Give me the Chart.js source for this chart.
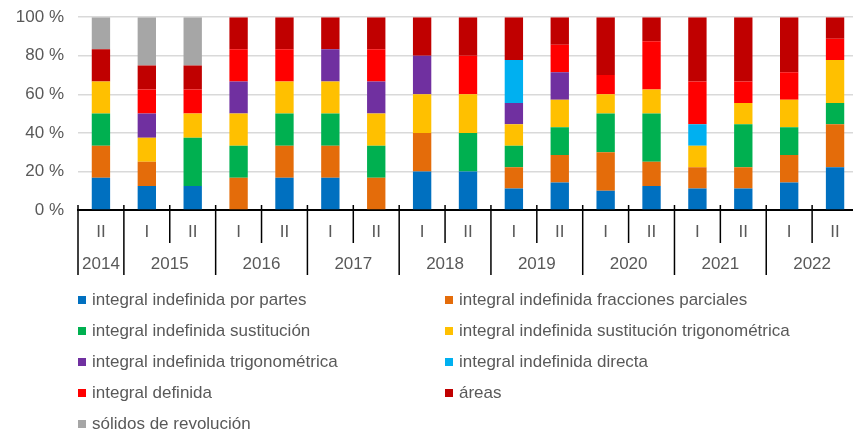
<!DOCTYPE html>
<html>
<head>
<meta charset="utf-8">
<script src="https://cdn.jsdelivr.net/npm/chart.js@4"></script>
<style>
  body { margin: 0; width: 853px; height: 438px; overflow: hidden; background: #fff; }
  #wrap { position: relative; width: 860px; height: 438px; }
  #chartBox { position: absolute; left: 0; top: -7px; width: 860px; height: 297px; }
  #legend { position: absolute; left: 0; top: 0; width: 853px; height: 438px;
            font-family: "Liberation Sans", Arial, sans-serif; font-size: 17px; color: #595959; }
  .item { position: absolute; white-space: nowrap; line-height: 20px; }
  .item span.box { display: inline-block; width: 8px; height: 8px; margin-right: 6px; vertical-align: 1px; }
</style>
</head>
<body>
<div id="wrap">
  <div id="chartBox"><canvas id="chart" width="860" height="297"></canvas></div>
  <div id="legend"></div>
</div>
<script>
// categories: semester + year for each bar
const semesterLabels = ['II', 'I', 'II', 'I', 'II', 'I', 'II', 'I', 'II', 'I', 'II', 'I', 'II', 'I', 'II', 'I', 'II'];
const yearLabels = ['2014', '2015', '2015', '2016', '2016', '2017', '2017', '2018', '2018',
                    '2019', '2019', '2020', '2020', '2021', '2021', '2022', '2022'];
const yTickLabels = ['0 %', '20 %', '40 %', '60 %', '80 %', '100 %'];

// share of each topic per semester (%), bottom to top of the stack
const porPartes   = [16.67, 12.5, 12.5, 0, 16.67, 16.67, 0, 20, 20, 11.11, 14.29, 10, 12.5, 11.11, 11.11, 14.29, 22.22];
const fracciones  = [16.67, 12.5, 0, 16.67, 16.67, 16.67, 16.67, 20, 0, 11.11, 14.29, 20, 12.5, 11.11, 11.11, 14.29, 22.22];
const sustitucion = [16.67, 0, 25, 16.67, 16.67, 16.67, 16.67, 0, 20, 11.11, 14.29, 20, 25, 0, 22.22, 14.29, 11.11];
const sustTrig    = [16.67, 12.5, 12.5, 16.67, 16.67, 16.67, 16.67, 20, 20, 11.11, 14.29, 10, 12.5, 11.11, 11.11, 14.29, 22.22];
const trigonom    = [0, 12.5, 0, 16.67, 0, 16.67, 16.67, 20, 0, 11.11, 14.29, 0, 0, 0, 0, 0, 0];
const directa     = [0, 0, 0, 0, 0, 0, 0, 0, 0, 22.22, 0, 0, 0, 11.11, 0, 0, 0];
const definida    = [0, 12.5, 12.5, 16.67, 16.67, 0, 16.67, 0, 20, 0, 14.29, 10, 25, 22.22, 11.11, 14.29, 11.11];
const areas       = [16.67, 12.5, 12.5, 16.67, 16.67, 16.67, 16.67, 20, 20, 22.22, 14.29, 30, 12.5, 33.33, 33.33, 28.57, 11.11];
const solidos     = [16.67, 25, 25, 0, 0, 0, 0, 0, 0, 0, 0, 0, 0, 0, 0, 0, 0];

const seriesNames = [
  'integral indefinida por partes', 'integral indefinida fracciones parciales',
  'integral indefinida sustitución', 'integral indefinida sustitución trigonométrica',
  'integral indefinida trigonométrica', 'integral indefinida directa',
  'integral definida', 'áreas', 'sólidos de revolución'
];
const seriesData = [porPartes, fracciones, sustitucion, sustTrig, trigonom, directa, definida, areas, solidos];
const seriesColors = ['#0070C0', '#E46C0A', '#00B050', '#FFC000', '#7030A0', '#00B0F0', '#FF0000', '#C00000', '#A6A6A6'];

const FONT = '"Liberation Sans", Arial, sans-serif';
const GREY = '#595959';

// draws the two level category axis: I / II, years and the separators
const groupedAxis = {
  id: 'groupedAxis',
  afterDraw(chart) {
    const ctx = chart.ctx;
    const x = chart.scales.x;
    const base = chart.chartArea.bottom;
    const half = (x.getPixelForValue(1) - x.getPixelForValue(0)) / 2;
    ctx.save();
    ctx.fillStyle = GREY;
    ctx.font = '17px ' + FONT;
    ctx.textAlign = 'center';
    ctx.textBaseline = 'middle';
    ctx.strokeStyle = '#000';
    ctx.lineWidth = 1.5;

    // semester labels and short separators
    semesterLabels.forEach((s, i) => {
      const c = x.getPixelForValue(i);
      ctx.fillText(s, c, base + 22);
      const left = c - half;
      const newYear = i === 0 || yearLabels[i] !== yearLabels[i - 1];
      ctx.beginPath();
      ctx.moveTo(left, base - 5);
      ctx.lineTo(left, newYear ? base + 65 : base + 33);
      ctx.stroke();
    });

    // year labels centred on their group
    let start = 0;
    for (let i = 1; i <= yearLabels.length; i++) {
      if (i === yearLabels.length || yearLabels[i] !== yearLabels[start]) {
        const c = (x.getPixelForValue(start) + x.getPixelForValue(i - 1)) / 2;
        ctx.fillText(yearLabels[start], c, base + 54);
        start = i;
      }
    }
    ctx.restore();
  }
};

new Chart(document.getElementById('chart'), {
  type: 'bar',
  data: {
    labels: semesterLabels,
    datasets: seriesNames.map((name, k) => ({
      label: name,
      data: seriesData[k],
      backgroundColor: seriesColors[k],
      borderWidth: 0,
      barPercentage: 0.4,
      categoryPercentage: 1
    }))
  },
  options: {
    responsive: false,
    animation: false,
    layout: { padding: { top: 9, right: 2, left: 0, bottom: 0 } },
    plugins: { legend: { display: false }, tooltip: { enabled: false } },
    scales: {
      x: {
        stacked: true,
        ticks: { display: false },
        grid: { display: false, drawTicks: false },
        border: { display: true, color: '#000', width: 2 },
        afterFit(scale) { scale.height = 80; }
      },
      y: {
        stacked: true,
        min: 0,
        max: 100,
        ticks: {
          stepSize: 20,
          padding: 14,
          color: GREY,
          font: { family: FONT, size: 17 },
          callback: (v) => yTickLabels[v / 20]
        },
        grid: { color: '#D9D9D9', lineWidth: 1.5, drawTicks: false },
        border: { display: false },
        afterFit(scale) { scale.width = 78; }
      }
    }
  },
  plugins: [groupedAxis]
});

// legend in two columns, built from the series arrays
const legend = document.getElementById('legend');
seriesNames.forEach((name, k) => {
  const row = Math.floor(k / 2), col = k % 2;
  const div = document.createElement('div');
  div.className = 'item';
  div.style.left = (col === 0 ? 78 : 445) + 'px';
  div.style.top = (290 + row * 31) + 'px';
  div.innerHTML = '<span class="box" style="background:' + seriesColors[k] + '"></span>' + name;
  legend.appendChild(div);
});
</script>
</body>
</html>
